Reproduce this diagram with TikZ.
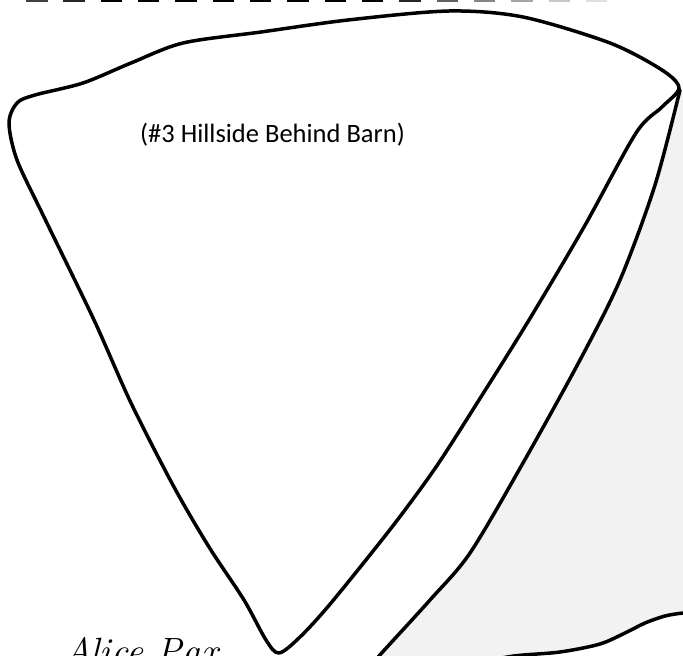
\documentclass[tikz,border=0pt]{standalone}
\usepackage{fontspec}
\newfontfamily\carlito{Carlito}
\definecolor{hillgray}{HTML}{F2F2F2}

\begin{document}
\begin{tikzpicture}[
    x=1pt, y=-1pt,
    % Vastag fekete kontúr a dombokhoz
    hill line/.style={line width=3.5pt, line join=round, line cap=round},
    % A felső vágóvonal darabjai
    cut dash/.style={line width=4.5pt}
]
    \useasboundingbox (0,0) rectangle (683,656);
    \clip (0,0) rectangle (683,656);

    % Szürke terület jobbra lent: a második vonal és a hullám között
    \fill[hillgray] plot[smooth, tension=0.5] coordinates {(681,92) (655,185) (620,280) (580,360) (523,463) (470,553) (430,600) (379,656) (370,668)}
        -- (470,668) -- plot[smooth, tension=0.5] coordinates {(470,664) (514,656) (560,652) (600,644) (627,632) (645,623) (665,616) (683,613) (700,612)}
        -- (700,80) -- cycle;

    % A domb (#3) körvonala
    \draw[hill line, fill=white] plot[smooth cycle, tension=0.5] coordinates {
        (9,123) (17,103) (35,95) (83,83) (131,63) (183,43) (261,32) (348,20)
        (449,11) (523,17) (610,43) (662,70) (679,88) (662,107) (636,133)
        (584,227) (529,320) (479,400) (436,467) (392,527) (331,603) (300,637)
        (279,653) (266,640) (244,600) (209,547) (174,487) (131,403) (94,320)
        (44,217) (17,160)};

    % Második vonal a csúcsból lefelé
    \draw[hill line] plot[smooth, tension=0.5] coordinates {(680,90) (655,185) (620,280) (580,360) (523,463) (470,553) (430,600) (379,656) (370,668)};

    % Hullámos alsó vonal
    \draw[hill line] plot[smooth, tension=0.5] coordinates {(470,664) (514,656) (560,652) (600,644) (627,632) (645,623) (665,616) (683,613) (700,612)};

    % Szaggatott vonal a tetején, jobbra halványodik
    \foreach \i/\shade in {0/75,1/85,2/100,3/100,4/100,5/100,6/100,7/100,8/100,9/100,10/85,11/62,12/48,13/35,14/22,15/12}
        \draw[cut dash, black!\shade] (26+37.33*\i,0) -- ++(21.5,0);

    % Feliratok
    \node[anchor=base west, inner sep=0pt, font=\carlito\fontsize{26.5}{30}\selectfont] (hill3) at (140,142) {(\#3 Hillside Behind Barn)};
    \node[anchor=base west, inner sep=0pt, font=\itshape\fontsize{38}{42}\selectfont] (signature) at (64,664) {Alice Pax};
\end{tikzpicture}
\end{document}
